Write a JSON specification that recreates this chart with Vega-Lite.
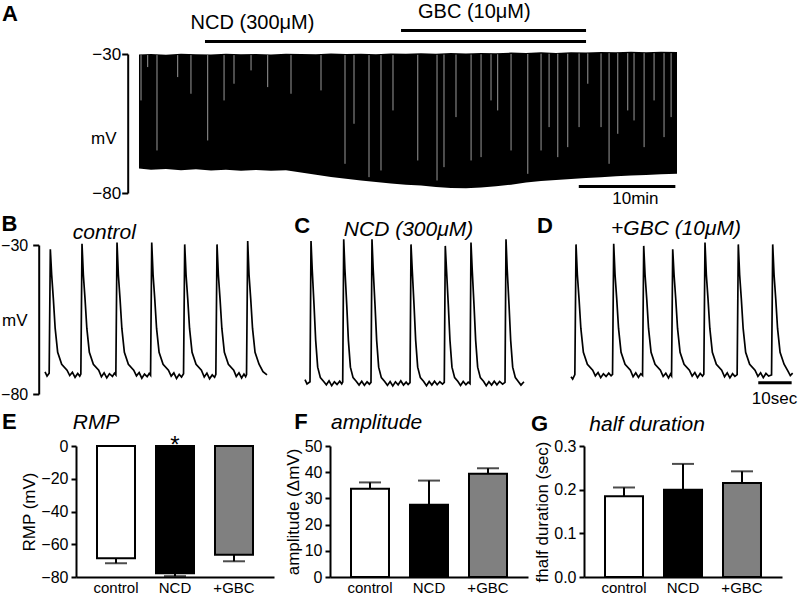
{
  "$schema": "https://vega.github.io/schema/vega-lite/v6.json",
  "padding": {"top": 2, "left": 0, "right": 0, "bottom": 0},
  "background": "white",
  "bounds": "flush",
  "align": "none",
  "spacing": 52,
  "config": {
    "font": "Liberation Sans",
    "view": {"stroke": null},
    "axis": {"domainColor": "black", "domainWidth": 2, "tickColor": "black", "tickWidth": 2, "labelColor": "black", "titleColor": "black", "grid": false, "titleFontWeight": "normal", "labelFontSize": 16, "titleFontSize": 17, "labelOverlap": false}
  },
  "datasets": {
    "envA": [
      {"t": 0, "top": -30.2, "bot": -71.2}, {"t": 1.24, "top": -30.0, "bot": -71.6}, {"t": 2.79, "top": -30.3, "bot": -71.4},
      {"t": 4.34, "top": -29.9, "bot": -71.8}, {"t": 5.89, "top": -30.1, "bot": -71.5}, {"t": 7.44, "top": -30.2, "bot": -71.9},
      {"t": 8.99, "top": -29.9, "bot": -71.6}, {"t": 10.54, "top": -30.1, "bot": -72.0}, {"t": 12.09, "top": -30.0, "bot": -71.7},
      {"t": 13.64, "top": -30.2, "bot": -72.0}, {"t": 15.19, "top": -29.9, "bot": -71.8}, {"t": 16.74, "top": -30.0, "bot": -72.6},
      {"t": 18.29, "top": -30.1, "bot": -73.4}, {"t": 19.84, "top": -29.8, "bot": -74.2}, {"t": 21.39, "top": -30.0, "bot": -74.9},
      {"t": 22.94, "top": -29.9, "bot": -75.5}, {"t": 24.49, "top": -30.1, "bot": -76.0}, {"t": 26.04, "top": -29.8, "bot": -76.6},
      {"t": 27.59, "top": -29.9, "bot": -77.0}, {"t": 29.14, "top": -29.7, "bot": -77.3}, {"t": 30.69, "top": -29.9, "bot": -77.8},
      {"t": 32.24, "top": -29.6, "bot": -78.2}, {"t": 33.79, "top": -29.8, "bot": -78.3}, {"t": 35.35, "top": -29.6, "bot": -78.0},
      {"t": 36.90, "top": -29.7, "bot": -77.6}, {"t": 38.45, "top": -29.5, "bot": -77.0}, {"t": 40.00, "top": -29.6, "bot": -76.2},
      {"t": 41.55, "top": -29.4, "bot": -75.7}, {"t": 43.10, "top": -29.6, "bot": -75.3}, {"t": 44.65, "top": -29.4, "bot": -75.0},
      {"t": 46.20, "top": -29.5, "bot": -74.6}, {"t": 47.75, "top": -29.3, "bot": -74.3}, {"t": 49.30, "top": -29.4, "bot": -74.0},
      {"t": 50.85, "top": -29.2, "bot": -73.7}, {"t": 52.40, "top": -29.4, "bot": -73.5}, {"t": 53.95, "top": -29.2, "bot": -73.3},
      {"t": 55.60, "top": -29.3, "bot": -73.1}
    ],
    "gapsA": [
      {"t": 0.21, "top": -30.4, "depth": -46.7}, {"t": 0.90, "top": -30.4, "depth": -34.7}, {"t": 1.86, "top": -30.4, "depth": -64.7}, {"t": 4.0, "top": -30.4, "depth": -38.3},
      {"t": 5.37, "top": -30.4, "depth": -44.3}, {"t": 7.10, "top": -30.4, "depth": -61.1}, {"t": 8.79, "top": -30.4, "depth": -46.7}, {"t": 9.82, "top": -30.4, "depth": -40.7},
      {"t": 11.58, "top": -30.4, "depth": -35.9}, {"t": 13.30, "top": -30.4, "depth": -41.9}, {"t": 15.71, "top": -30.4, "depth": -44.3}, {"t": 18.81, "top": -30.4, "depth": -43.1},
      {"t": 21.29, "top": -30.4, "depth": -69.5}, {"t": 22.22, "top": -30.4, "depth": -55.1}, {"t": 23.77, "top": -30.4, "depth": -74.3}, {"t": 25.01, "top": -30.4, "depth": -71.9},
      {"t": 26.25, "top": -30.4, "depth": -50.3}, {"t": 28.81, "top": -30.3, "depth": -68.3}, {"t": 30.80, "top": -30.3, "depth": -75.5}, {"t": 31.52, "top": -30.2, "depth": -70.7},
      {"t": 32.76, "top": -30.2, "depth": -52.7}, {"t": 34.32, "top": -30.2, "depth": -68.3}, {"t": 35.35, "top": -30.1, "depth": -67.1}, {"t": 36.38, "top": -30.1, "depth": -46.7},
      {"t": 37.07, "top": -30.1, "depth": -50.3}, {"t": 38.45, "top": -30.0, "depth": -64.7}, {"t": 40.18, "top": -30.0, "depth": -73.1}, {"t": 41.55, "top": -29.9, "depth": -64.7},
      {"t": 42.38, "top": -29.9, "depth": -56.3}, {"t": 43.28, "top": -29.9, "depth": -67.1}, {"t": 44.31, "top": -29.9, "depth": -63.5}, {"t": 45.48, "top": -29.8, "depth": -56.3},
      {"t": 46.38, "top": -29.8, "depth": -40.7}, {"t": 47.75, "top": -29.8, "depth": -56.3}, {"t": 48.58, "top": -29.7, "depth": -69.5}, {"t": 49.48, "top": -29.7, "depth": -58.7},
      {"t": 50.51, "top": -29.7, "depth": -50.3}, {"t": 51.16, "top": -29.7, "depth": -53.9}, {"t": 52.20, "top": -29.7, "depth": -63.5}, {"t": 53.23, "top": -29.7, "depth": -46.7},
      {"t": 54.26, "top": -29.7, "depth": -59.9}, {"t": 54.99, "top": -29.7, "depth": -52.7}
    ],
    "drugsA": [
      {"drug": "NCD", "start": 6.82, "end": 46.2, "level": -25.5},
      {"drug": "GBC", "start": 27.08, "end": 46.2, "level": -21.55}
    ],
    "scalebars": [
      {"panel": "A", "start": 45.45, "end": 55.43, "level": -77.7},
      {"panel": "D", "start": 56.1, "end": 66.1, "level": -76.2}
    ],
    "notes": [
      {"panel": "A", "kind": "letter", "text": "A", "t": -14.16, "v": -17.95},
      {"panel": "A", "kind": "label", "text": "NCD (300μM)", "t": 11.73, "v": -18.74},
      {"panel": "A", "kind": "label", "text": "GBC (10μM)", "t": 34.66, "v": -15.02},
      {"panel": "A", "kind": "scale", "text": "10min", "t": 51.3, "v": -82.1},
      {"panel": "B", "kind": "letter", "text": "B", "t": -13.03, "v": -25.3},
      {"panel": "B", "kind": "title", "text": "control", "t": 17.77, "v": -28.1},
      {"panel": "B", "kind": "letter", "text": "E", "t": -12.88, "v": -91.85},
      {"panel": "B", "kind": "sub", "text": "RMP", "t": 8.30, "v": -91.85},
      {"panel": "C", "kind": "letter", "text": "C", "t": -4.10, "v": -25.9},
      {"panel": "C", "kind": "title", "text": "NCD (300μM)", "t": 30.11, "v": -27.0},
      {"panel": "C", "kind": "letter", "text": "F", "t": -4.10, "v": -91.85},
      {"panel": "C", "kind": "sub", "text": "amplitude", "t": 6.89, "v": -91.85},
      {"panel": "D", "kind": "letter", "text": "D", "t": -10.19, "v": -25.9},
      {"panel": "D", "kind": "title", "text": "+GBC (10μM)", "t": 31.46, "v": -26.5},
      {"panel": "D", "kind": "letter", "text": "G", "t": -11.98, "v": -92.4},
      {"panel": "D", "kind": "sub", "text": "half duration", "t": 5.48, "v": -92.4},
      {"panel": "D", "kind": "scale", "text": "10sec", "t": 60.97, "v": -81.7}
    ],
    "traces": [
      {"p":"B","t":0.0,"v":-72.6},{"p":"B","t":0.6,"v":-74.0},{"p":"B","t":1.24,"v":-73.0},{"p":"B","t":1.59,"v":-31.4},{"p":"B","t":1.99,"v":-40},{"p":"B","t":2.49,"v":-48},{"p":"B","t":3.04,"v":-58},{"p":"B","t":3.79,"v":-66},{"p":"B","t":4.99,"v":-70},{"p":"B","t":6.59,"v":-72},{"p":"B","t":7.4,"v":-73.8},{"p":"B","t":8.2,"v":-72.7},{"p":"B","t":9.0,"v":-74.4},{"p":"B","t":9.8,"v":-73.1},{"p":"B","t":10.4,"v":-74.0},
      {"p":"B","t":10.73,"v":-73.3},{"p":"B","t":11.08,"v":-29.6},{"p":"B","t":11.48,"v":-40},{"p":"B","t":11.98,"v":-48},{"p":"B","t":12.53,"v":-58},{"p":"B","t":13.28,"v":-66},{"p":"B","t":14.48,"v":-70},{"p":"B","t":16.08,"v":-72},{"p":"B","t":16.9,"v":-74.2},{"p":"B","t":17.7,"v":-72.9},{"p":"B","t":18.5,"v":-74.6},{"p":"B","t":19.3,"v":-73.2},{"p":"B","t":20.2,"v":-74.1},{"p":"B","t":20.8,"v":-73.0},
      {"p":"B","t":21.22,"v":-73.6},{"p":"B","t":21.57,"v":-29.2},{"p":"B","t":21.97,"v":-40},{"p":"B","t":22.47,"v":-48},{"p":"B","t":23.02,"v":-58},{"p":"B","t":23.77,"v":-66},{"p":"B","t":24.97,"v":-70},{"p":"B","t":26.57,"v":-72},{"p":"B","t":27.4,"v":-73.9},{"p":"B","t":28.2,"v":-72.8},{"p":"B","t":29.0,"v":-74.7},{"p":"B","t":29.8,"v":-73.3},{"p":"B","t":30.6,"v":-74.2},{"p":"B","t":31.2,"v":-73.1},
      {"p":"B","t":31.62,"v":-73.7},{"p":"B","t":31.97,"v":-29.2},{"p":"B","t":32.37,"v":-40},{"p":"B","t":32.87,"v":-48},{"p":"B","t":33.42,"v":-58},{"p":"B","t":34.17,"v":-66},{"p":"B","t":35.37,"v":-70},{"p":"B","t":36.97,"v":-72},{"p":"B","t":37.8,"v":-74.0},{"p":"B","t":38.6,"v":-72.9},{"p":"B","t":39.4,"v":-74.8},{"p":"B","t":40.2,"v":-73.4},{"p":"B","t":40.9,"v":-74.3},
      {"p":"B","t":41.5,"v":-73.2},{"p":"B","t":41.85,"v":-29.8},{"p":"B","t":42.25,"v":-40},{"p":"B","t":42.75,"v":-48},{"p":"B","t":43.3,"v":-58},{"p":"B","t":44.05,"v":-66},{"p":"B","t":45.25,"v":-70},{"p":"B","t":46.85,"v":-72},{"p":"B","t":47.7,"v":-74.3},{"p":"B","t":48.5,"v":-73.0},{"p":"B","t":49.3,"v":-74.9},{"p":"B","t":50.1,"v":-73.6},{"p":"B","t":50.8,"v":-74.4},
      {"p":"B","t":51.18,"v":-73.4},{"p":"B","t":51.53,"v":-29.8},{"p":"B","t":51.93,"v":-40},{"p":"B","t":52.43,"v":-48},{"p":"B","t":52.98,"v":-58},{"p":"B","t":53.73,"v":-66},{"p":"B","t":54.93,"v":-70},{"p":"B","t":56.53,"v":-72},{"p":"B","t":57.3,"v":-74.1},{"p":"B","t":58.1,"v":-72.9},{"p":"B","t":58.9,"v":-74.6},{"p":"B","t":59.6,"v":-73.3},{"p":"B","t":60.1,"v":-74.2},
      {"p":"B","t":60.37,"v":-73.5},{"p":"B","t":60.72,"v":-28.7},{"p":"B","t":61.12,"v":-40},{"p":"B","t":61.62,"v":-48},{"p":"B","t":62.17,"v":-58},{"p":"B","t":62.92,"v":-66},{"p":"B","t":64.12,"v":-70},{"p":"B","t":65.3,"v":-72.5},{"p":"B","t":66.5,"v":-73.6},

      {"p":"C","t":-0.9,"v":-75.2},{"p":"C","t":-0.3,"v":-76.6},{"p":"C","t":0.6,"v":-75.9},{"p":"C","t":0.9,"v":-28.7},{"p":"C","t":1.25,"v":-38},{"p":"C","t":1.8,"v":-50},{"p":"C","t":2.3,"v":-62},{"p":"C","t":2.9,"v":-71},{"p":"C","t":3.7,"v":-74.5},{"p":"C","t":4.7,"v":-75.8},{"p":"C","t":5.5,"v":-76.9},{"p":"C","t":6.3,"v":-75.6},{"p":"C","t":7.1,"v":-77.2},{"p":"C","t":7.9,"v":-75.9},{"p":"C","t":8.7,"v":-76.8},{"p":"C","t":9.5,"v":-75.7},{"p":"C","t":10.1,"v":-76.6},
      {"p":"C","t":10.4,"v":-76.0},{"p":"C","t":10.7,"v":-28.1},{"p":"C","t":11.05,"v":-38},{"p":"C","t":11.6,"v":-50},{"p":"C","t":12.1,"v":-62},{"p":"C","t":12.7,"v":-71},{"p":"C","t":13.5,"v":-74.5},{"p":"C","t":14.5,"v":-75.8},{"p":"C","t":15.3,"v":-77.0},{"p":"C","t":16.1,"v":-75.7},{"p":"C","t":16.9,"v":-77.1},{"p":"C","t":17.7,"v":-75.9},{"p":"C","t":18.4,"v":-76.7},
      {"p":"C","t":18.87,"v":-76.1},{"p":"C","t":19.17,"v":-28.1},{"p":"C","t":19.52,"v":-38},{"p":"C","t":20.07,"v":-50},{"p":"C","t":20.57,"v":-62},{"p":"C","t":21.17,"v":-71},{"p":"C","t":21.97,"v":-74.5},{"p":"C","t":22.97,"v":-75.8},{"p":"C","t":23.8,"v":-77.1},{"p":"C","t":24.6,"v":-75.8},{"p":"C","t":25.4,"v":-77.3},{"p":"C","t":26.2,"v":-75.9},{"p":"C","t":27.0,"v":-76.9},{"p":"C","t":27.8,"v":-75.6},{"p":"C","t":28.6,"v":-77.0},{"p":"C","t":29.4,"v":-76.0},{"p":"C","t":30.0,"v":-76.8},
      {"p":"C","t":30.56,"v":-76.2},{"p":"C","t":30.86,"v":-29.8},{"p":"C","t":31.21,"v":-38},{"p":"C","t":31.76,"v":-50},{"p":"C","t":32.26,"v":-62},{"p":"C","t":32.86,"v":-71},{"p":"C","t":33.66,"v":-74.5},{"p":"C","t":34.66,"v":-75.8},{"p":"C","t":35.5,"v":-77.2},{"p":"C","t":36.3,"v":-75.8},{"p":"C","t":37.1,"v":-77.0},{"p":"C","t":37.9,"v":-75.7},{"p":"C","t":38.7,"v":-76.9},{"p":"C","t":39.5,"v":-75.9},{"p":"C","t":40.3,"v":-76.7},
      {"p":"C","t":40.83,"v":-76.1},{"p":"C","t":41.13,"v":-30.3},{"p":"C","t":41.48,"v":-38},{"p":"C","t":42.03,"v":-50},{"p":"C","t":42.53,"v":-62},{"p":"C","t":43.13,"v":-71},{"p":"C","t":43.93,"v":-74.5},{"p":"C","t":44.93,"v":-75.8},{"p":"C","t":45.7,"v":-77.1},{"p":"C","t":46.5,"v":-75.8},{"p":"C","t":47.3,"v":-76.9},{"p":"C","t":48.0,"v":-76.0},
      {"p":"C","t":48.53,"v":-76.5},{"p":"C","t":48.83,"v":-29.2},{"p":"C","t":49.18,"v":-38},{"p":"C","t":49.73,"v":-50},{"p":"C","t":50.23,"v":-62},{"p":"C","t":50.83,"v":-71},{"p":"C","t":51.63,"v":-74.5},{"p":"C","t":52.63,"v":-75.8},{"p":"C","t":53.4,"v":-77.2},{"p":"C","t":54.2,"v":-75.9},{"p":"C","t":55.0,"v":-77.0},{"p":"C","t":55.8,"v":-75.7},{"p":"C","t":56.6,"v":-76.9},{"p":"C","t":57.4,"v":-75.8},{"p":"C","t":58.3,"v":-76.7},
      {"p":"C","t":59.02,"v":-76.1},{"p":"C","t":59.32,"v":-28.1},{"p":"C","t":59.67,"v":-38},{"p":"C","t":60.22,"v":-50},{"p":"C","t":60.72,"v":-62},{"p":"C","t":61.32,"v":-71},{"p":"C","t":62.12,"v":-74.5},{"p":"C","t":63.0,"v":-75.8},{"p":"C","t":63.8,"v":-77.0},{"p":"C","t":64.7,"v":-75.9},

      {"p":"D","t":0.0,"v":-74.2},{"p":"D","t":0.5,"v":-75.0},{"p":"D","t":1.15,"v":-73.5},{"p":"D","t":1.5,"v":-29.8},{"p":"D","t":1.9,"v":-40},{"p":"D","t":2.4,"v":-48},{"p":"D","t":2.95,"v":-58},{"p":"D","t":3.7,"v":-66},{"p":"D","t":4.9,"v":-70},{"p":"D","t":6.5,"v":-72},{"p":"D","t":7.3,"v":-73.9},{"p":"D","t":8.1,"v":-72.8},{"p":"D","t":8.9,"v":-74.5},{"p":"D","t":9.7,"v":-73.2},{"p":"D","t":10.5,"v":-74.1},{"p":"D","t":11.3,"v":-73.0},{"p":"D","t":12.0,"v":-73.9},
      {"p":"D","t":12.44,"v":-73.4},{"p":"D","t":12.79,"v":-29.6},{"p":"D","t":13.19,"v":-40},{"p":"D","t":13.69,"v":-48},{"p":"D","t":14.24,"v":-58},{"p":"D","t":14.99,"v":-66},{"p":"D","t":16.19,"v":-70},{"p":"D","t":17.79,"v":-72},{"p":"D","t":18.6,"v":-74.2},{"p":"D","t":19.4,"v":-72.9},{"p":"D","t":20.2,"v":-74.4},{"p":"D","t":20.9,"v":-73.2},
      {"p":"D","t":21.43,"v":-73.8},{"p":"D","t":21.78,"v":-30.3},{"p":"D","t":22.18,"v":-40},{"p":"D","t":22.68,"v":-48},{"p":"D","t":23.23,"v":-58},{"p":"D","t":23.98,"v":-66},{"p":"D","t":25.18,"v":-70},{"p":"D","t":26.78,"v":-72},{"p":"D","t":27.6,"v":-74.1},{"p":"D","t":28.4,"v":-73.0},{"p":"D","t":29.2,"v":-74.6},{"p":"D","t":29.8,"v":-73.3},
      {"p":"D","t":30.12,"v":-73.9},{"p":"D","t":30.47,"v":-31.4},{"p":"D","t":30.87,"v":-40},{"p":"D","t":31.37,"v":-48},{"p":"D","t":31.92,"v":-58},{"p":"D","t":32.67,"v":-66},{"p":"D","t":33.87,"v":-70},{"p":"D","t":35.47,"v":-72},{"p":"D","t":36.3,"v":-74.0},{"p":"D","t":37.1,"v":-72.8},{"p":"D","t":37.9,"v":-74.5},{"p":"D","t":38.7,"v":-73.1},{"p":"D","t":39.4,"v":-74.0},
      {"p":"D","t":39.79,"v":-73.4},{"p":"D","t":40.14,"v":-29.2},{"p":"D","t":40.54,"v":-40},{"p":"D","t":41.04,"v":-48},{"p":"D","t":41.59,"v":-58},{"p":"D","t":42.34,"v":-66},{"p":"D","t":43.54,"v":-70},{"p":"D","t":45.14,"v":-72},{"p":"D","t":46.0,"v":-74.2},{"p":"D","t":46.8,"v":-72.9},{"p":"D","t":47.6,"v":-74.6},{"p":"D","t":48.4,"v":-73.2},{"p":"D","t":49.1,"v":-74.1},
      {"p":"D","t":49.77,"v":-73.5},{"p":"D","t":50.12,"v":-29.8},{"p":"D","t":50.52,"v":-40},{"p":"D","t":51.02,"v":-48},{"p":"D","t":51.57,"v":-58},{"p":"D","t":52.32,"v":-66},{"p":"D","t":53.52,"v":-70},{"p":"D","t":55.12,"v":-72},{"p":"D","t":56.0,"v":-74.1},{"p":"D","t":56.8,"v":-72.9},{"p":"D","t":57.6,"v":-74.5},{"p":"D","t":58.4,"v":-73.1},{"p":"D","t":59.2,"v":-74.0},
      {"p":"D","t":60.08,"v":-73.6},{"p":"D","t":60.43,"v":-29.8},{"p":"D","t":60.83,"v":-40},{"p":"D","t":61.33,"v":-48},{"p":"D","t":61.88,"v":-58},{"p":"D","t":62.63,"v":-66},{"p":"D","t":63.83,"v":-70},{"p":"D","t":65.0,"v":-72.3},{"p":"D","t":65.7,"v":-73.8},{"p":"D","t":66.4,"v":-73.0}
    ],
    "rmp": [
      {"cond": "control", "mean": -68.5, "end": -71.6, "sig": "", "sigAt": 0},
      {"cond": "NCD", "mean": -77.7, "end": -79.5, "sig": "*", "sigAt": 0},
      {"cond": "+GBC", "mean": -66.4, "end": -70.4, "sig": "", "sigAt": 0}
    ],
    "amp": [
      {"cond": "control", "mean": 33.7, "end": 36.1},
      {"cond": "NCD", "mean": 27.6, "end": 36.8},
      {"cond": "+GBC", "mean": 39.4, "end": 41.5}
    ],
    "dur": [
      {"cond": "control", "mean": 0.185, "end": 0.205},
      {"cond": "NCD", "mean": 0.200, "end": 0.259},
      {"cond": "+GBC", "mean": 0.215, "end": 0.242}
    ]
  },
  "vconcat": [
    {
      "width": 601,
      "height": 139,
      "layer": [
        {
          "data": {"name": "envA"},
          "mark": {"type": "area", "color": "black"},
          "encoding": {
            "x": {"field": "t", "type": "quantitative", "scale": {"domain": [-6.51, 55.6], "nice": false, "zero": false}, "axis": null},
            "y": {"field": "top", "type": "quantitative", "scale": {"domain": [-80, -30], "nice": false, "zero": false},
                  "axis": {"values": [-30, -80], "offset": -51.7, "tickSize": 6, "labelPadding": 1, "labelFontSize": 17, "labelOverlap": false, "title": "mV", "titleAngle": 0, "titleAlign": "right", "titleBaseline": "middle", "titleX": -11.7, "titleY": 84, "titleFontSize": 17}},
            "y2": {"field": "bot"}
          }
        },
        {
          "data": {"name": "gapsA"},
          "mark": {"type": "rule", "color": "white", "strokeWidth": 0.8, "opacity": 0.75},
          "encoding": {
            "x": {"field": "t", "type": "quantitative", "axis": null},
            "y": {"field": "top", "type": "quantitative"},
            "y2": {"field": "depth"}
          }
        },
        {
          "data": {"name": "drugsA"},
          "mark": {"type": "rule", "color": "black", "strokeWidth": 3},
          "encoding": {
            "x": {"field": "start", "type": "quantitative", "axis": null},
            "x2": {"field": "end"},
            "y": {"field": "level", "type": "quantitative"}
          }
        },
        {
          "data": {"name": "scalebars"},
          "transform": [{"filter": "datum.panel == 'A'"}],
          "mark": {"type": "rule", "color": "black", "strokeWidth": 3},
          "encoding": {
            "x": {"field": "start", "type": "quantitative", "axis": null},
            "x2": {"field": "end"},
            "y": {"field": "level", "type": "quantitative"}
          }
        },
        {
          "data": {"name": "notes"},
          "transform": [{"filter": "datum.panel == 'A' && datum.kind == 'letter'"}],
          "mark": {"type": "text", "fontSize": 22, "fontWeight": "bold", "align": "left", "baseline": "alphabetic"},
          "encoding": {"x": {"field": "t", "type": "quantitative", "axis": null}, "y": {"field": "v", "type": "quantitative"}, "text": {"field": "text"}}
        },
        {
          "data": {"name": "notes"},
          "transform": [{"filter": "datum.panel == 'A' && datum.kind == 'label'"}],
          "mark": {"type": "text", "fontSize": 20, "align": "center", "baseline": "middle"},
          "encoding": {"x": {"field": "t", "type": "quantitative", "axis": null}, "y": {"field": "v", "type": "quantitative"}, "text": {"field": "text"}}
        },
        {
          "data": {"name": "notes"},
          "transform": [{"filter": "datum.panel == 'A' && datum.kind == 'scale'"}],
          "mark": {"type": "text", "fontSize": 17, "align": "center", "baseline": "middle"},
          "encoding": {"x": {"field": "t", "type": "quantitative", "axis": null}, "y": {"field": "v", "type": "quantitative"}, "text": {"field": "text"}}
        }
      ]
    },
    {
      "columns": 3,
      "spacing": {"row": 52, "column": 56},
      "align": "none",
      "bounds": "flush",
      "concat": [
        {
          "width": 198,
          "height": 149,
          "layer": [
            {
              "data": {"name": "traces"},
              "transform": [{"filter": "datum.p == 'B'"}],
              "mark": {"type": "line", "color": "black", "strokeWidth": 1.7},
              "encoding": {
                "x": {"field": "t", "type": "quantitative", "scale": {"domain": [9.28, 68.6], "nice": false, "zero": false}, "axis": null},
                "y": {"field": "v", "type": "quantitative", "scale": {"domain": [-80, -30], "nice": false, "zero": false},
                      "axis": {"values": [-30, -80], "offset": 37.3, "tickSize": 6, "labelPadding": 5, "labelFontSize": 16, "labelOverlap": false, "title": "mV", "titleAngle": 0, "titleAlign": "right", "titleBaseline": "middle", "titleX": -11.7, "titleY": 75, "titleFontSize": 17}}
              }
            },
            {
              "data": {"name": "notes"},
              "transform": [{"filter": "datum.panel == 'B' && datum.kind == 'letter'"}],
              "mark": {"type": "text", "fontSize": 22, "fontWeight": "bold", "align": "left", "baseline": "alphabetic"},
              "encoding": {"x": {"field": "t", "type": "quantitative", "axis": null}, "y": {"field": "v", "type": "quantitative"}, "text": {"field": "text"}}
            },
            {
              "data": {"name": "notes"},
              "transform": [{"filter": "datum.panel == 'B' && datum.kind == 'title'"}],
              "mark": {"type": "text", "fontSize": 21, "fontStyle": "italic", "align": "center", "baseline": "alphabetic"},
              "encoding": {"x": {"field": "t", "type": "quantitative", "axis": null}, "y": {"field": "v", "type": "quantitative"}, "text": {"field": "text"}}
            },
            {
              "data": {"name": "notes"},
              "transform": [{"filter": "datum.panel == 'B' && datum.kind == 'sub'"}],
              "mark": {"type": "text", "fontSize": 21, "fontStyle": "italic", "align": "left", "baseline": "alphabetic"},
              "encoding": {"x": {"field": "t", "type": "quantitative", "axis": null}, "y": {"field": "v", "type": "quantitative"}, "text": {"field": "text"}}
            }
          ]
        },
        {
          "width": 198,
          "height": 149,
          "layer": [
            {
              "data": {"name": "traces"},
              "transform": [{"filter": "datum.p == 'C'"}],
              "mark": {"type": "line", "color": "black", "strokeWidth": 1.7},
              "encoding": {
                "x": {"field": "t", "type": "quantitative", "scale": {"domain": [6.59, 65.91], "nice": false, "zero": false}, "axis": null},
                "y": {"field": "v", "type": "quantitative", "scale": {"domain": [-80, -30], "nice": false, "zero": false}, "axis": null}
              }
            },
            {
              "data": {"name": "notes"},
              "transform": [{"filter": "datum.panel == 'C' && datum.kind == 'letter'"}],
              "mark": {"type": "text", "fontSize": 22, "fontWeight": "bold", "align": "left", "baseline": "alphabetic"},
              "encoding": {"x": {"field": "t", "type": "quantitative", "axis": null}, "y": {"field": "v", "type": "quantitative", "axis": null}, "text": {"field": "text"}}
            },
            {
              "data": {"name": "notes"},
              "transform": [{"filter": "datum.panel == 'C' && datum.kind == 'title'"}],
              "mark": {"type": "text", "fontSize": 21, "fontStyle": "italic", "align": "center", "baseline": "alphabetic"},
              "encoding": {"x": {"field": "t", "type": "quantitative", "axis": null}, "y": {"field": "v", "type": "quantitative", "axis": null}, "text": {"field": "text"}}
            },
            {
              "data": {"name": "notes"},
              "transform": [{"filter": "datum.panel == 'C' && datum.kind == 'sub'"}],
              "mark": {"type": "text", "fontSize": 21, "fontStyle": "italic", "align": "left", "baseline": "alphabetic"},
              "encoding": {"x": {"field": "t", "type": "quantitative", "axis": null}, "y": {"field": "v", "type": "quantitative", "axis": null}, "text": {"field": "text"}}
            }
          ]
        },
        {
          "width": 198,
          "height": 149,
          "layer": [
            {
              "data": {"name": "traces"},
              "transform": [{"filter": "datum.p == 'D'"}],
              "mark": {"type": "line", "color": "black", "strokeWidth": 1.7},
              "encoding": {
                "x": {"field": "t", "type": "quantitative", "scale": {"domain": [3.89, 63.21], "nice": false, "zero": false}, "axis": null},
                "y": {"field": "v", "type": "quantitative", "scale": {"domain": [-80, -30], "nice": false, "zero": false}, "axis": null}
              }
            },
            {
              "data": {"name": "scalebars"},
              "transform": [{"filter": "datum.panel == 'D'"}],
              "mark": {"type": "rule", "color": "black", "strokeWidth": 3},
              "encoding": {
                "x": {"field": "start", "type": "quantitative", "axis": null},
                "x2": {"field": "end"},
                "y": {"field": "level", "type": "quantitative", "axis": null}
              }
            },
            {
              "data": {"name": "notes"},
              "transform": [{"filter": "datum.panel == 'D' && datum.kind == 'letter'"}],
              "mark": {"type": "text", "fontSize": 22, "fontWeight": "bold", "align": "left", "baseline": "alphabetic"},
              "encoding": {"x": {"field": "t", "type": "quantitative", "axis": null}, "y": {"field": "v", "type": "quantitative", "axis": null}, "text": {"field": "text"}}
            },
            {
              "data": {"name": "notes"},
              "transform": [{"filter": "datum.panel == 'D' && datum.kind == 'title'"}],
              "mark": {"type": "text", "fontSize": 21, "fontStyle": "italic", "align": "center", "baseline": "alphabetic"},
              "encoding": {"x": {"field": "t", "type": "quantitative", "axis": null}, "y": {"field": "v", "type": "quantitative", "axis": null}, "text": {"field": "text"}}
            },
            {
              "data": {"name": "notes"},
              "transform": [{"filter": "datum.panel == 'D' && datum.kind == 'sub'"}],
              "mark": {"type": "text", "fontSize": 21, "fontStyle": "italic", "align": "left", "baseline": "alphabetic"},
              "encoding": {"x": {"field": "t", "type": "quantitative", "axis": null}, "y": {"field": "v", "type": "quantitative", "axis": null}, "text": {"field": "text"}}
            },
            {
              "data": {"name": "notes"},
              "transform": [{"filter": "datum.panel == 'D' && datum.kind == 'scale'"}],
              "mark": {"type": "text", "fontSize": 17, "align": "center", "baseline": "middle"},
              "encoding": {"x": {"field": "t", "type": "quantitative", "axis": null}, "y": {"field": "v", "type": "quantitative", "axis": null}, "text": {"field": "text"}}
            }
          ]
        },
        {
          "width": 198,
          "height": 131,
          "data": {"name": "rmp"},
          "encoding": {"x": {"field": "cond", "type": "nominal", "sort": null, "scale": {"paddingInner": 0.356, "paddingOuter": 0.356}, "axis": {"title": null, "labelAngle": 0, "ticks": false, "labelFontSize": 15, "labelPadding": 3}}},
          "layer": [
            {
              "mark": {"type": "bar", "stroke": "black", "strokeWidth": 2},
              "encoding": {
                "y": {"field": "mean", "type": "quantitative", "scale": {"domain": [-80, 0]}, "axis": {"values": [0, -20, -40, -60, -80], "labelOverlap": false, "title": "RMP (mV)", "tickSize": 5, "labelPadding": 3, "titlePadding": 2}},
                "fill": {"field": "cond", "type": "nominal", "sort": null, "scale": {"domain": ["control", "NCD", "+GBC"], "range": ["#ffffff", "#000000", "#808080"]}, "legend": null}
              }
            },
            {
              "mark": {"type": "rule", "color": "black", "strokeWidth": 2},
              "encoding": {"y": {"field": "mean", "type": "quantitative", "axis": {"values": [0, -20, -40, -60, -80], "labelOverlap": false}}, "y2": {"field": "end"}}
            },
            {
              "mark": {"type": "tick", "orient": "horizontal", "color": "black", "thickness": 2, "size": 22},
              "encoding": {"y": {"field": "end", "type": "quantitative", "axis": {"values": [0, -20, -40, -60, -80], "labelOverlap": false}}}
            },
            {
              "mark": {"type": "text", "fontSize": 24, "baseline": "alphabetic", "dy": 7, "color": "black"},
              "encoding": {"y": {"field": "sigAt", "type": "quantitative", "axis": {"values": [0, -20, -40, -60, -80], "labelOverlap": false}}, "text": {"field": "sig"}}
            }
          ]
        },
        {
          "width": 198,
          "height": 131,
          "data": {"name": "amp"},
          "encoding": {"x": {"field": "cond", "type": "nominal", "sort": null, "scale": {"paddingInner": 0.356, "paddingOuter": 0.356}, "axis": {"title": null, "labelAngle": 0, "ticks": false, "labelFontSize": 15, "labelPadding": 3}}},
          "layer": [
            {
              "mark": {"type": "bar", "stroke": "black", "strokeWidth": 2},
              "encoding": {
                "y": {"field": "mean", "type": "quantitative", "scale": {"domain": [0, 50]}, "axis": {"values": [0, 10, 20, 30, 40, 50], "labelOverlap": false, "title": "amplitude (ΔmV)", "tickSize": 5, "labelPadding": 3, "titlePadding": 2}},
                "fill": {"field": "cond", "type": "nominal", "sort": null, "scale": {"domain": ["control", "NCD", "+GBC"], "range": ["#ffffff", "#000000", "#808080"]}, "legend": null}
              }
            },
            {
              "mark": {"type": "rule", "color": "black", "strokeWidth": 2},
              "encoding": {"y": {"field": "mean", "type": "quantitative", "axis": {"values": [0, 10, 20, 30, 40, 50], "labelOverlap": false}}, "y2": {"field": "end"}}
            },
            {
              "mark": {"type": "tick", "orient": "horizontal", "color": "black", "thickness": 2, "size": 22},
              "encoding": {"y": {"field": "end", "type": "quantitative", "axis": {"values": [0, 10, 20, 30, 40, 50], "labelOverlap": false}}}
            }
          ]
        },
        {
          "width": 198,
          "height": 131,
          "data": {"name": "dur"},
          "encoding": {"x": {"field": "cond", "type": "nominal", "sort": null, "scale": {"paddingInner": 0.356, "paddingOuter": 0.356}, "axis": {"title": null, "labelAngle": 0, "ticks": false, "labelFontSize": 15, "labelPadding": 3}}},
          "layer": [
            {
              "mark": {"type": "bar", "stroke": "black", "strokeWidth": 2},
              "encoding": {
                "y": {"field": "mean", "type": "quantitative", "scale": {"domain": [0, 0.3]}, "axis": {"values": [0, 0.1, 0.2, 0.3], "format": ".1f", "labelOverlap": false, "title": "fhalf duration (sec)", "tickSize": 5, "labelPadding": 3, "titlePadding": 2}},
                "fill": {"field": "cond", "type": "nominal", "sort": null, "scale": {"domain": ["control", "NCD", "+GBC"], "range": ["#ffffff", "#000000", "#808080"]}, "legend": null}
              }
            },
            {
              "mark": {"type": "rule", "color": "black", "strokeWidth": 2},
              "encoding": {"y": {"field": "mean", "type": "quantitative", "axis": {"values": [0, 0.1, 0.2, 0.3], "format": ".1f", "labelOverlap": false}}, "y2": {"field": "end"}}
            },
            {
              "mark": {"type": "tick", "orient": "horizontal", "color": "black", "thickness": 2, "size": 22},
              "encoding": {"y": {"field": "end", "type": "quantitative", "axis": {"values": [0, 0.1, 0.2, 0.3], "format": ".1f", "labelOverlap": false}}}
            }
          ]
        }
      ]
    }
  ]
}
